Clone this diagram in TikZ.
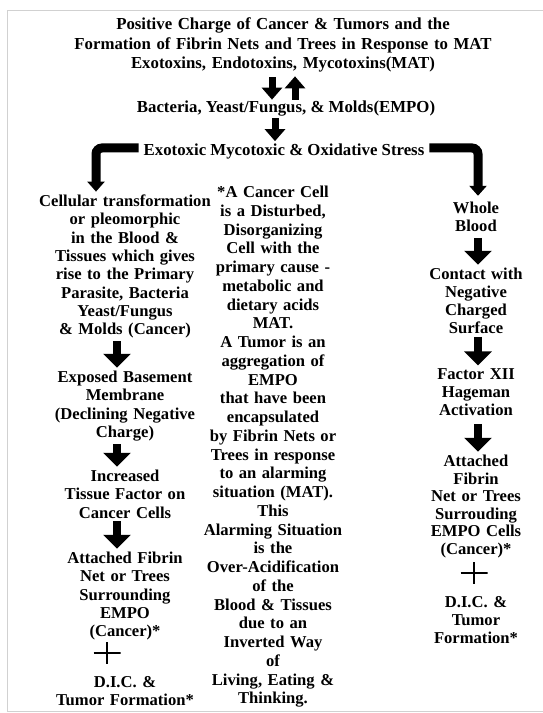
\documentclass[tikz,border=0pt]{standalone}
\usepackage{fontspec}
\setmainfont{Liberation Serif}
\usepackage{tikz}
\usetikzlibrary{arrows.meta, positioning}

\tikzset{
    head/.style={font=\bfseries\fontsize{16.8}{19.5}\selectfont, align=center, inner sep=0pt, anchor=base},
    side/.style={font=\bfseries\fontsize{16.6}{18.3}\selectfont, align=center, text width=190pt, inner sep=0pt, anchor=base},
    mid/.style={side, font=\bfseries\fontsize{16.6}{18.75}\selectfont, text width=170pt},
    fat/.style={line width=8pt, -{Triangle[width=27pt,length=14pt]}, shorten <=3pt, shorten >=3pt},
    slim/.style={line width=7pt, -{Triangle[width=20pt,length=12pt]}},
    elbow/.style={line width=9pt, rounded corners=6pt, -{Triangle[width=17pt,length=10pt]}, shorten <=3pt, shorten >=3pt},
    cross/.style={minimum width=27pt, minimum height=22pt, inner sep=0pt,
        path picture={\draw[line width=2pt] (path picture bounding box.west) -- (path picture bounding box.east)
            (path picture bounding box.north) -- (path picture bounding box.south);}},
    frame/.style={draw=black!18, line width=1pt}
}

\begin{document}
\begin{tikzpicture}[x=1pt, y=-1pt]
        \useasboundingbox (0,0) rectangle (543,713);
        \draw[frame] (543,10) -- (7,10) -- (7,711.5) -- (543,711.5);

        \node (title) [head, text width=440pt] at (283,29.5) {Positive Charge of Cancer \& Tumors and the\\Formation of Fibrin Nets and Trees in Response to MAT\\Exotoxins, Endotoxins, Mycotoxins(MAT)};
        \node (bact) [head, below=83pt of title.base, anchor=base, xshift=3pt] {Bacteria, Yeast/Fungus, \& Molds(EMPO)};
        \node (stress) [head, inner xsep=2pt, below=42.5pt of bact.base, anchor=base, xshift=-2pt] {Exotoxic Mycotoxic \& Oxidative Stress};

        % left column
        \node (cell) [side, below=51.5pt of stress.base, anchor=base, xshift=-159pt] {Cellular transformation\\or pleomorphic\\in the Blood \&\\Tissues which gives\\rise to the Primary\\Parasite, Bacteria\\Yeast/Fungus\\\& Molds (Cancer)};
        \node (baseL) [side, below=176pt of cell.base, anchor=base] {Exposed Basement\\Membrane\\(Declining Negative\\Charge)};
        \node (tissue) [side, below=99pt of baseL.base, anchor=base] {Increased\\Tissue Factor on\\Cancer Cells};
        \node (fibL) [side, below=82pt of tissue.base, anchor=base] {Attached Fibrin\\Net or Trees\\Surrounding\\EMPO\\(Cancer)*};
        \node (plusL) [cross, below=89.5pt of fibL.base, anchor=center, xshift=-18pt] {};
        \node (dicL) [side, below=124pt of fibL.base, anchor=base] {D.I.C. \&\\Tumor Formation*};

        % middle column
        \node (cause) [mid, below=42.5pt of stress.base, anchor=base, xshift=-11pt] {*A Cancer Cell\\is a Disturbed,\\Disorganizing\\Cell with the\\primary cause -\\metabolic and\\dietary acids\\MAT.\\A Tumor is an\\aggregation of\\EMPO\\that have been\\encapsulated\\by Fibrin Nets or\\Trees in response\\to an alarming\\situation (MAT).\\This\\Alarming Situation\\is the\\Over-Acidification\\of the\\Blood \& Tissues\\due to an\\Inverted Way\\of\\Living, Eating \&\\Thinking.};

        % right column
        \node (whole) [side, font=\bfseries\fontsize{16.6}{18}\selectfont, below=58.5pt of stress.base, anchor=base, xshift=192pt] {Whole\\Blood};
        \node (contact) [side, font=\bfseries\fontsize{16.6}{18}\selectfont, below=66pt of whole.base, anchor=base] {Contact with\\Negative\\Charged\\Surface};
        \node (factor) [side, font=\bfseries\fontsize{16.6}{18}\selectfont, below=100pt of contact.base, anchor=base] {Factor XII\\Hageman\\Activation};
        \node (fibR) [side, font=\bfseries\fontsize{16.6}{17.5}\selectfont, below=87pt of factor.base, anchor=base] {Attached\\Fibrin\\Net or Trees\\Surrouding\\EMPO Cells\\(Cancer)*};
        \node (plusR) [cross, below=106.5pt of fibR.base, anchor=center, xshift=-2pt] {};
        \node (dicR) [side, font=\bfseries\fontsize{16.6}{18}\selectfont, below=141pt of fibR.base, anchor=base] {D.I.C. \&\\Tumor\\Formation*};

        \path[slim]
        ([xshift=-11pt]title.south) edge [shorten <=5pt, shorten >=1pt] ([xshift=-11pt]title.south |- bact.north)
        ([xshift=12pt]title.south |- bact.north) edge [shorten <=1pt, shorten >=4pt] ([xshift=12pt]title.south)
        ([xshift=-11pt]bact.south) edge [shorten <=2pt, shorten >=2pt] ([xshift=-11pt]bact.south |- stress.north);

        \draw[elbow] ([yshift=3pt]stress.west) -| ([xshift=-29pt]cell.north);
        \draw[elbow, shorten >=6pt] ([yshift=3pt]stress.east) -| ([xshift=2pt]whole.north);

        \path[fat]
        ([xshift=-8pt]cell.south) edge ([xshift=-8pt]cell.south |- baseL.north)
        ([xshift=-8pt]baseL.south) edge ([xshift=-8pt]baseL.south |- tissue.north)
        ([xshift=-8pt]tissue.south) edge ([xshift=-8pt]tissue.south |- fibL.north)
        ([xshift=2pt]whole.south) edge [shorten <=6pt] ([xshift=2pt]whole.south |- contact.north)
        ([xshift=2pt]contact.south) edge ([xshift=2pt]contact.south |- factor.north)
        ([xshift=2pt]factor.south) edge [shorten <=8pt] ([xshift=2pt]factor.south |- fibR.north);
\end{tikzpicture}
\end{document}
